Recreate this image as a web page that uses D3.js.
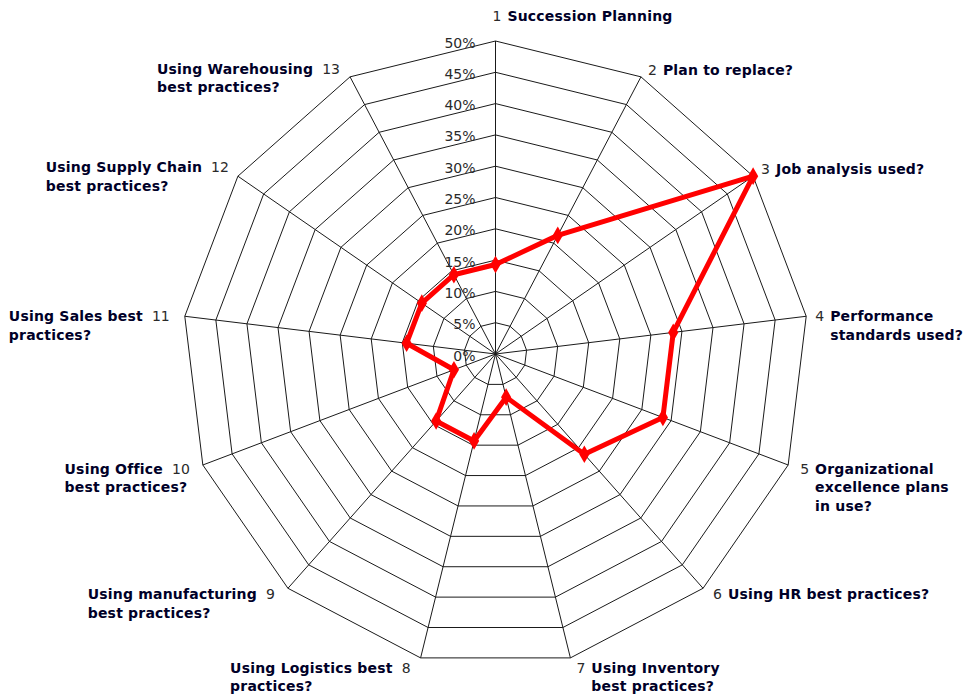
<!DOCTYPE html>
<html><head><meta charset="utf-8">
<script src="https://cdn.jsdelivr.net/npm/d3@7"></script>
<style>
html,body{margin:0;padding:0;background:#fff;}
svg{display:block;}
</style></head>
<body>
<script>
// ---- data ----
const categories = [
  ["Succession Planning"],
  ["Plan to replace?"],
  ["Job analysis used?"],
  ["Performance", "standards used?"],
  ["Organizational", "excellence plans", "in use?"],
  ["Using HR best practices?"],
  ["Using Inventory", "best practices?"],
  ["Using Logistics best", "practices?"],
  ["Using manufacturing", "best practices?"],
  ["Using Office", "best practices?"],
  ["Using Sales best", "practices?"],
  ["Using Supply Chain", "best practices?"],
  ["Using Warehousing", "best practices?"]
];
const values = [14.3, 21.4, 50.0, 28.6, 28.6, 21.4, 7.1, 14.3, 14.3, 7.1, 14.3, 14.3, 14.3];
const tickValues = [0, 5, 10, 15, 20, 25, 30, 35, 40, 45, 50];
const tickLabels = ["0%", "5%", "10%", "15%", "20%", "25%", "30%", "35%", "40%", "45%", "50%"];

// ---- layout ----
const W = 973, H = 698;
const cx = 495.5, cy = 354, R = 313;
const n = categories.length;
// offsets of category number from its vertex: [dx, dy, side]
const numOffsets = [
  [-3, -25, "r"], [7, -7, "r"], [8, -7, "r"], [9, 0, "r"], [12, 4, "r"], [10, 6, "r"], [6, 10, "r"],
  [-10, 10, "l"], [-13, 6, "l"], [-13, 4, "l"], [-15, 0, "l"], [-9, -9, "l"], [-10, -8, "l"]
];

const svg = d3.select("body").append("svg").attr("width", W).attr("height", H);
const g = svg.append("g").attr("transform", `translate(${cx},${cy})`);

const r = d3.scaleLinear().domain([0, 50]).range([0, R]);
const angle = d3.scaleLinear().domain([0, n]).range([0, 2 * Math.PI]);
const idx = d3.range(n);
const pt = (i, v) => [Math.sin(angle(i)) * r(v), -Math.cos(angle(i)) * r(v)];

// grid rings
const ringLine = d3.lineRadial().angle(i => angle(i)).curve(d3.curveLinearClosed);
tickValues.filter(t => t > 0).forEach(t => {
  g.append("path")
    .attr("d", ringLine.radius(() => r(t))(idx))
    .attr("fill", "none").attr("stroke", "#1a1a1a").attr("stroke-width", 1);
});
// spokes
g.selectAll("line.spoke").data(idx).enter().append("line")
  .attr("x1", 0).attr("y1", 0)
  .attr("x2", i => pt(i, 50)[0]).attr("y2", i => pt(i, 50)[1])
  .attr("stroke", "#1a1a1a").attr("stroke-width", 1);

// tick labels
g.selectAll("text.tick").data(tickValues).enter().append("text")
  .attr("x", -20).attr("y", d => -r(d) + 6.5)
  .attr("text-anchor", "end")
  .attr("font-family", "DejaVu Sans, sans-serif").attr("font-size", 14)
  .attr("fill", "#2a2a2a")
  .text((d, i) => tickLabels[i]);

// series line
const seriesLine = d3.lineRadial()
  .angle((d, i) => angle(i)).radius(d => r(d))
  .curve(d3.curveLinearClosed);
g.append("path").attr("d", seriesLine(values))
  .attr("fill", "none").attr("stroke", "#ff0000").attr("stroke-width", 5)
  .attr("stroke-linejoin", "round");
// markers
g.selectAll("path.mk").data(values).enter().append("path")
  .attr("transform", (d, i) => `translate(${pt(i, d)[0]},${pt(i, d)[1]})`)
  .attr("d", d3.symbol().type(d3.symbolDiamond).size(90))
  .attr("fill", "#ff0000");

// category labels
idx.forEach(i => {
  const v = pt(i, 50);
  const [dx, dy, side] = numOffsets[i];
  const nx = cx + v[0] + dx, ny = cy + v[1] + dy;
  const num = svg.append("text")
    .attr("x", nx).attr("y", ny + 5)
    .attr("text-anchor", side === "r" ? "start" : "end")
    .attr("font-family", "DejaVu Sans, sans-serif").attr("font-size", 14)
    .attr("fill", "#2a2a2a").text(i + 1);
  const nw = num.node().getComputedTextLength();
  const lab = svg.append("text")
    .attr("font-family", "DejaVu Sans, sans-serif").attr("font-size", 14)
    .attr("font-weight", "bold").attr("letter-spacing", 0.2)
    .attr("fill", "#000028");
  categories[i].forEach((line, k) => {
    lab.append("tspan").attr("y", ny + 5 + k * 18.5).text(line);
  });
  const firstW = lab.select("tspan").node().getComputedTextLength();
  const lx = side === "r" ? nx + nw + 6 : nx - nw - 9 - firstW;
  lab.selectAll("tspan").attr("x", lx);
});
</script>
</body></html>
